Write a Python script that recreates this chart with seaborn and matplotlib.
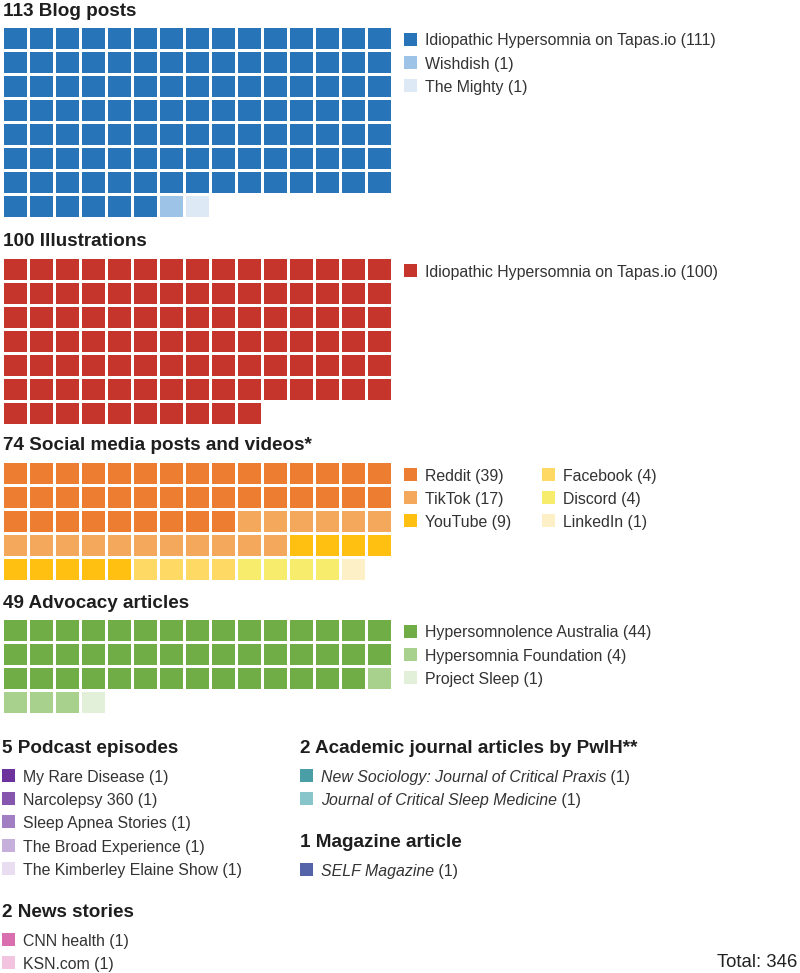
import numpy as np
import seaborn as sns
import matplotlib.pyplot as plt
from matplotlib.colors import ListedColormap
from matplotlib.patches import Rectangle

sns.set_theme(style="white")
plt.rcParams["font.family"] = ["Liberation Sans", "DejaVu Sans"]

# --- data ---
blog_names = ["Idiopathic Hypersomnia on Tapas.io", "Wishdish", "The Mighty"]
blog_counts = [111, 1, 1]
blog_colors = ["#2874B8", "#9DC3E6", "#DDEAF6"]

illus_names = ["Idiopathic Hypersomnia on Tapas.io"]
illus_counts = [100]
illus_colors = ["#C5352B"]

social_names = ["Reddit", "TikTok", "YouTube", "Facebook", "Discord", "LinkedIn"]
social_counts = [39, 17, 9, 4, 4, 1]
social_colors = ["#ED7D31", "#F4A85B", "#FFC012", "#FED963", "#F8EC6C", "#FEF0C6"]

advocacy_names = ["Hypersomnolence Australia", "Hypersomnia Foundation", "Project Sleep"]
advocacy_counts = [44, 4, 1]
advocacy_colors = ["#70AD47", "#A9D18E", "#E2F0D9"]

podcast_names = ["My Rare Disease", "Narcolepsy 360", "Sleep Apnea Stories",
                 "The Broad Experience", "The Kimberley Elaine Show"]
podcast_counts = [1, 1, 1, 1, 1]
podcast_colors = ["#6E329C", "#8655AD", "#A27EC3", "#C6AFDA", "#E8DDF1"]

news_names = ["CNN health", "KSN.com"]
news_counts = [1, 1]
news_colors = ["#DA6FB0", "#F2C4DF"]

journal_names = ["New Sociology: Journal of Critical Praxis", "Journal of Critical Sleep Medicine"]
journal_counts = [1, 1]
journal_colors = ["#4A9EA6", "#88C5CB"]

magazine_names = ["SELF Magazine"]
magazine_counts = [1]
magazine_colors = ["#5563A8"]

# --- layout (pixels) ---
W, H = 800, 973
NCOL = 15
CELL_W, CELL_H = 26, 24
TITLE_KW = dict(fontsize=13.6, fontweight="bold", color="#1e1e1e", va="baseline")
ITEM_KW = dict(fontsize=11.4, color="#333333", va="baseline")
SW = 13  # legend swatch size

fig = plt.figure(figsize=(W / 100, H / 100), dpi=100)
over = fig.add_axes([0, 0, 1, 1])
over.set_xlim(0, W)
over.set_ylim(H, 0)
over.axis("off")


def legend_item(x, y, name, count, color, italic=False):
    over.add_patch(Rectangle((x, y - SW), SW, SW, color=color, lw=0))
    if italic:
        t = over.text(x + 21, y, name, style="italic", **ITEM_KW)
        over.annotate(f" ({count})", xy=(1, 0), xycoords=t, fontsize=11.4,
                      color="#333333", va="bottom", ha="left")
    else:
        over.text(x + 21, y, f"{name} ({count})", **ITEM_KW)


def waffle(top, title, names, counts, colors, ncols_leg=1):
    total = sum(counts)
    nrows = int(np.ceil(total / NCOL))
    cats = np.repeat(np.arange(len(counts)), counts).astype(float)
    grid = np.full(nrows * NCOL, np.nan)
    grid[:total] = cats
    grid = grid.reshape(nrows, NCOL)

    x0, w, h = 1.7, NCOL * CELL_W, nrows * CELL_H
    ax = fig.add_axes([x0 / W, 1 - (top + h) / H, w / W, h / H])
    sns.heatmap(grid, ax=ax, cmap=ListedColormap(colors), vmin=-0.5,
                vmax=len(colors) - 0.5, cbar=False, linewidths=0.9,
                linecolor="white", xticklabels=False, yticklabels=False)
    ax.set_xlabel("")
    ax.set_ylabel("")

    over.text(3, top - 10.5, f"{total} {title}", **TITLE_KW)
    per_col = int(np.ceil(len(names) / ncols_leg))
    for i, (n, c, col) in enumerate(zip(names, counts, colors)):
        cx = 404 + (i // per_col) * 138
        cy = top + 19.5 + (i % per_col) * 23.4
        legend_item(cx, cy, n, c, col)


waffle(26, "Blog posts", blog_names, blog_counts, blog_colors)
waffle(257, "Illustrations", illus_names, illus_counts, illus_colors)
waffle(461, "Social media posts and videos*", social_names, social_counts,
       social_colors, ncols_leg=2)
waffle(618, "Advocacy articles", advocacy_names, advocacy_counts, advocacy_colors)


def list_block(x, y, title, names, counts, colors, italic=False):
    over.text(x, y, f"{sum(counts)} {title}", **TITLE_KW)
    for i, (n, c, col) in enumerate(zip(names, counts, colors)):
        yy = y + 29 + i * 23.3
        legend_item(x, yy, n, c, col, italic=italic)
    return y + 29 + (len(names) - 1) * 23.3 + 42


y_left = list_block(2, 752.7, "Podcast episodes", podcast_names, podcast_counts, podcast_colors)
list_block(2, y_left, "News stories", news_names, news_counts, news_colors)

y_right = list_block(300, 752.7, "Academic journal articles by PwIH**", journal_names,
                     journal_counts, journal_colors, italic=True)
list_block(300, y_right, "Magazine article", magazine_names, magazine_counts,
           magazine_colors, italic=True)

grand_total = sum(blog_counts + illus_counts + social_counts + advocacy_counts
                  + podcast_counts + news_counts + journal_counts + magazine_counts)
over.text(797, 967, f"Total: {grand_total}", fontsize=13.4, color="#222222",
          ha="right", va="baseline")

fig.savefig("out.png", dpi=100)
